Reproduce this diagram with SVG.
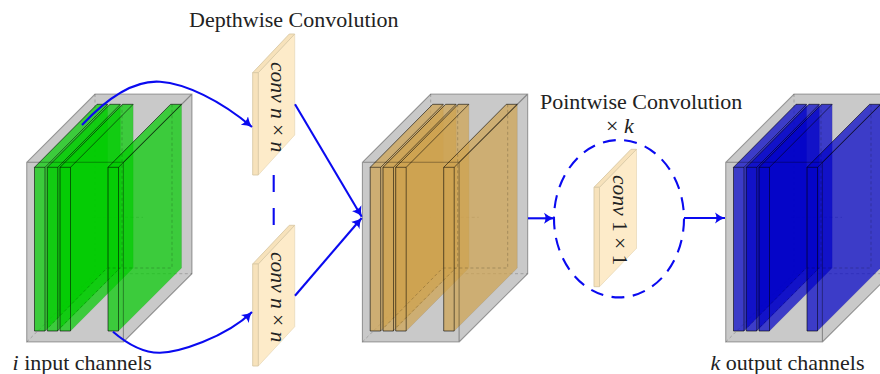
<svg xmlns="http://www.w3.org/2000/svg" xmlns:xlink="http://www.w3.org/1999/xlink" width="880" height="374" viewBox="0 0 880 374">
<style>
text{font-family:"Liberation Serif","Times New Roman",serif;fill:#222}
.lab{font-size:22px}
.pan{font-size:21.5px;fill:#222}
.m{font-style:italic}
.hull{fill:#c9c9c9;stroke:none}
.slab{fill:currentColor;fill-opacity:.7;stroke:#000;stroke-opacity:.1;stroke-width:.7}
.sl{fill:none;stroke:#000;stroke-opacity:.6;stroke-width:.9}
.bx{fill:none;stroke:#000;stroke-opacity:.33;stroke-width:1.1}
.ds{fill:none;stroke:#000;stroke-opacity:.25;stroke-width:.8;stroke-dasharray:3 2.5}
.pf{fill:#f7e2bb;stroke:#d9c9a6;stroke-width:.9}
.ps{fill:#fdebc9;stroke:#e6d7b6;stroke-width:.7}
.c{fill:none;stroke:#0a0af0;stroke-width:2.1}
</style>
<defs>
<marker id="ah" markerUnits="userSpaceOnUse" markerWidth="16" markerHeight="14" refX="10" refY="7" orient="auto">
<path d="M0,1.500Q5,5.500 10,7Q5,8.500 0,12.500Q3,7 0,1.500Z" fill="#0a0af0"/>
</marker>
<g id="block">
<polygon class="hull" points="26.700,162.300 95,94 192,94 192,273.700 123.400,342 26.700,342"/>
<path class="ds" d="M95,94V273.700H192M95,273.700L26.700,342M92,217.300H143"/>
<polygon class="slab" points="34.500,167.300 97,104.300 107.600,104.300 107.600,268 45,331 34.500,331"/>
<polygon class="slab" points="47.300,167.300 109.900,104.300 120.400,104.300 120.400,268 57.800,331 47.300,331"/>
<polygon class="slab" points="60,167.300 122.500,104.300 133.200,104.300 133.200,268 70.500,331 60,331"/>
<polygon class="slab" points="108,167.300 170.600,104.300 181.600,104.300 181.600,268 118.500,331 108,331"/>
<path class="ds" d="M172,104.300V268H108M122,104.300V268M45,331L107,268M57,331L120,268"/>
<path class="sl" d="M34.500,167.300H45V331H34.500ZM47.300,167.300H57.800V331H47.300ZM60,167.300H70.500V331H60ZM108,167.300H118.500V331H108ZM34.500,167.300L97,104.300H107.600L45,167.300M47.300,167.300L109.900,104.300H120.400L57.800,167.300M60,167.300L122.500,104.300H133.200L70.500,167.300M108,167.300L170.600,104.300H181.600L118.500,167.300"/>
<path class="bx" d="M26.700,162.300H123.400V342H26.700ZM26.700,162.300L95,94H192V273.700L123.400,342M123.400,162.300L192,94"/>
</g>
</defs>
<g id="input-block" color="#00cc00"><use href="#block" xlink:href="#block"/></g>
<g id="middle-block" color="#cea34f"><use href="#block" xlink:href="#block" x="335.700"/></g>
<g id="output-block" color="#0000c8"><use href="#block" xlink:href="#block" x="699"/></g>
<g id="conv-top">
<polygon class="ps" points="258.300,72.700 294.700,34 294.700,135 258.300,175"/>
<polygon class="pf" points="252.700,72.700 289.300,34 294.700,34 258.300,72.700"/>
<polygon class="pf" points="252.700,72.700 258.300,72.700 258.300,175 252.700,175"/>
<text class="pan" transform="translate(270.500,62) rotate(90)"><tspan class="m">conv</tspan> <tspan class="m">n</tspan> × <tspan class="m">n</tspan></text>
</g>
<g id="conv-bottom">
<polygon class="ps" points="258.300,264 294.700,225.300 294.700,326.700 258.300,366"/>
<polygon class="pf" points="252.700,264 289.300,225.300 294.700,225.300 258.300,264"/>
<polygon class="pf" points="252.700,264 258.300,264 258.300,366 252.700,366"/>
<text class="pan" transform="translate(270.500,252) rotate(90)"><tspan class="m">conv</tspan> <tspan class="m">n</tspan> × <tspan class="m">n</tspan></text>
</g>
<g id="conv-point">
<polygon class="ps" points="599.500,187.300 636.500,149.300 636.500,248.300 599.500,286.700"/>
<polygon class="pf" points="594,187.300 631,149.300 636.500,149.300 599.500,187.300"/>
<polygon class="pf" points="594,187.300 599.500,187.300 599.500,286.700 594,286.700"/>
<text class="pan" transform="translate(613,175) rotate(90)"><tspan class="m">conv</tspan> 1 × 1</text>
</g>
<g id="connectors">
<path class="c" marker-end="url(#ah)" d="M82,125C110,95 135,80 160,81.700S220,100 252,127"/>
<path class="c" marker-end="url(#ah)" d="M113,331.700C125,342 142,353 160,352.700S225,338 252,312"/>
<path class="c" marker-end="url(#ah)" d="M295,104.300L361.700,216.700"/>
<path class="c" marker-end="url(#ah)" d="M295,295.700L361.700,218"/>
<path class="c" stroke-dasharray="17 16" d="M273.700,175V225"/>
<path class="c" marker-end="url(#ah)" d="M528,218.300H554"/>
<ellipse class="c" cx="619" cy="218.700" rx="65" ry="78.700" stroke-dasharray="13 8.500"/>
<path class="c" marker-end="url(#ah)" d="M684,218H725"/>
</g>
<g id="labels">
<text class="lab" x="189" y="26.700">Depthwise Convolution</text>
<text class="lab" x="540" y="109.300">Pointwise Convolution</text>
<text class="lab" x="606" y="133">× <tspan class="m">k</tspan></text>
<text class="lab" x="12.500" y="370"><tspan class="m">i</tspan> input channels</text>
<text class="lab" x="710.500" y="370"><tspan class="m">k</tspan> output channels</text>
</g>
</svg>
